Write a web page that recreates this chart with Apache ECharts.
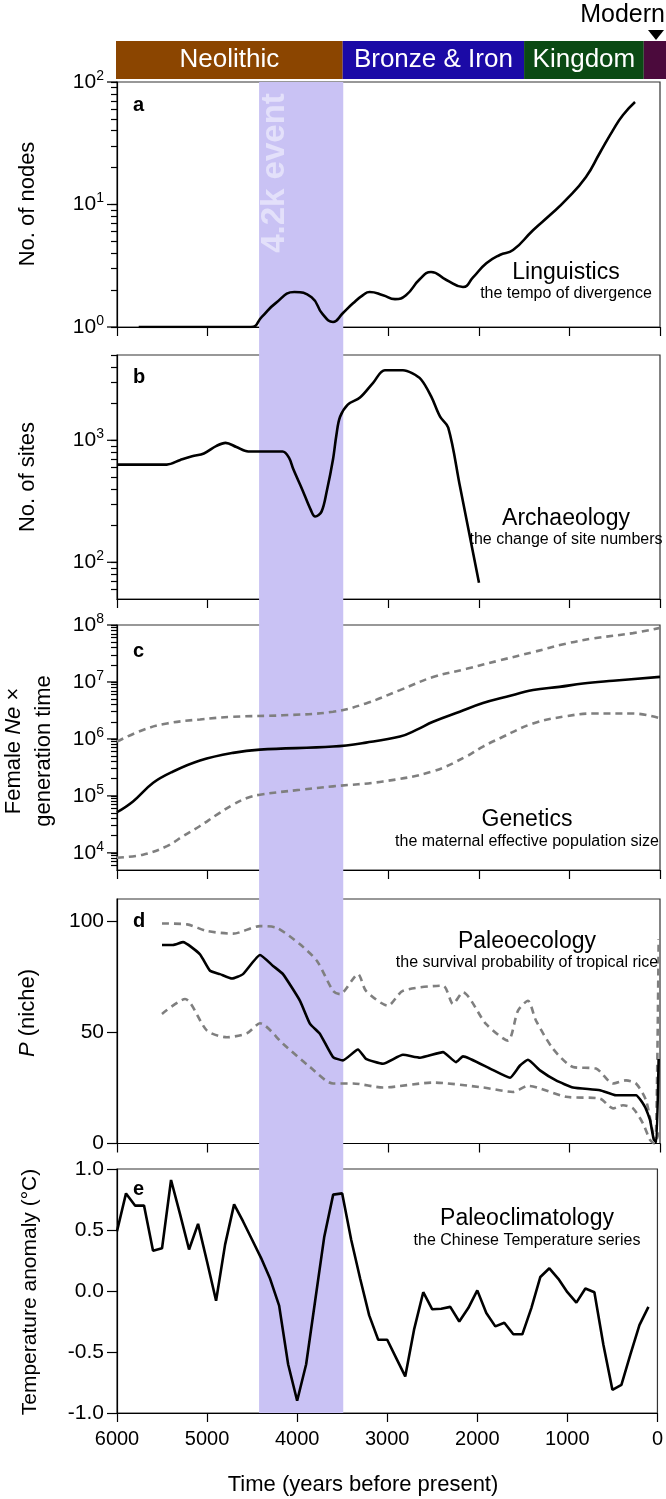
<!DOCTYPE html>
<html><head><meta charset="utf-8">
<script src="https://cdn.jsdelivr.net/npm/echarts@6/dist/echarts.min.js"></script>
<style>html,body{margin:0;padding:0;background:#fff}#c{width:666px;height:1499px}</style>
</head><body><div id="c"></div>
<script>
// ---------------- data ----------------
const periodNames = ['Neolithic', 'Bronze & Iron', 'Kingdom', 'Modern'];
const periodStart = [6000, 3500, 1500, 180];
const periodEnd = [3500, 1500, 180, -65];
const eventBand = [4430, 3500];

// a: Linguistics
const lingYears = [5760, 4520, 4400, 4250, 4040, 3850, 3730, 3613, 3503, 3392, 3282, 3208, 3061, 2928, 2807, 2655, 2530, 2360, 2177, 2066, 1919, 1771, 1624, 1403, 1215, 1039, 818, 667, 519, 409, 276];
const lingNodes = [1.0, 1.0, 1.21, 1.56, 1.93, 1.75, 1.28, 1.10, 1.30, 1.56, 1.82, 1.93, 1.82, 1.69, 1.82, 2.45, 2.81, 2.42, 2.12, 2.54, 3.31, 3.87, 4.25, 6.17, 8.2, 10.9, 16.8, 26.2, 40.5, 53.8, 68.7];

// b: Archaeology
const archYears = [6000, 5450, 5300, 5170, 5040, 4900, 4800, 4680, 4550, 4170, 4100, 4050, 3950, 3860, 3810, 3740, 3680, 3613, 3576, 3536, 3450, 3315, 3170, 3040, 2840, 2740, 2640, 2530, 2430, 2340, 2210, 2000];
const archSites = [632, 632, 690, 740, 780, 900, 953, 880, 808, 808, 720, 575, 390, 270, 237, 260, 390, 700, 1100, 1550, 1960, 2240, 2960, 3750, 3750, 3550, 3150, 2300, 1560, 1270, 417, 68];

// c: Genetics
const neYears = [6000, 5823, 5600, 5380, 5083, 4718, 4420, 3613, 3249, 2873, 2692, 2508, 2213, 1956, 1697, 1403, 1112, 851, 519, 0];
const neMid = [51600, 80000, 170000, 268000, 418000, 569000, 650000, 734000, 861000, 1.1e6, 1.44e6, 2.0e6, 3.0e6, 4.26e6, 5.5e6, 7.2e6, 8.2e6, 9.4e6, 1.05e7, 1.23e7];
const neUpYears = [6000, 5713, 5448, 5083, 4718, 4166, 3613, 3249, 2873, 2508, 2138, 1768, 1400, 1039, 740, 298, 0];
const neUp = [9.0e5, 1.44e6, 1.87e6, 2.2e6, 2.45e6, 2.6e6, 3.0e6, 4.2e6, 7.2e6, 1.22e7, 1.7e7, 2.4e7, 3.35e7, 4.7e7, 5.8e7, 7.2e7, 8.9e7];
const neLoYears = [6000, 5713, 5448, 5271, 5083, 4895, 4718, 4564, 4420, 3978, 3613, 3061, 2508, 2143, 1956, 1768, 1403, 1039, 740, 298, 0];
const neLo = [8200, 9300, 13100, 19600, 29600, 47000, 70000, 92000, 105000, 128000, 147000, 179000, 270000, 490000, 735000, 1.03e6, 1.87e6, 2.5e6, 2.8e6, 2.8e6, 2.3e6];

// d: Paleoecology
const nicheYears = [5503, 5381, 5270, 5083, 4972, 4862, 4729, 4608, 4420, 4276, 4166, 3978, 3867, 3757, 3613, 3503, 3337, 3249, 3061, 2840, 2652, 2398, 2254, 2177, 1878, 1657, 1547, 1459, 1326, 1149, 961, 663, 486, 265, 166, 110, 70, 40, 15];
const nicheMid = [89.3, 89.3, 90.6, 85.1, 77.7, 76.2, 74.2, 76.2, 84.8, 79.9, 76.2, 64.2, 53.8, 49.3, 38.9, 37.4, 42.3, 38.1, 35.9, 39.9, 38.6, 41.1, 36.6, 39.2, 33.7, 29.6, 35.1, 37.7, 32.9, 28.4, 25.2, 24.0, 21.7, 21.7, 16.5, 10.5, 2.0, 0.5, 38];
const nicheUpYears = [5503, 5226, 5006, 4718, 4420, 4232, 3978, 3790, 3613, 3536, 3337, 3249, 3006, 2840, 2398, 2287, 2177, 1923, 1680, 1569, 1459, 1370, 1182, 961, 707, 519, 376, 265, 155, 80, 50, 15];
const nicheUp = [99.0, 98.6, 95.6, 94.4, 97.8, 97.0, 89.6, 82.1, 68.7, 67.2, 76.2, 68.7, 62.0, 68.7, 71.0, 62.8, 68.0, 53.8, 46.3, 59.8, 64.2, 55.3, 42.6, 34.4, 33.7, 27.0, 28.4, 27.0, 19.5, 5.0, 1.0, 92];
const nicheLoYears = [5503, 5248, 5006, 4785, 4564, 4420, 4166, 3867, 3613, 3392, 3061, 2508, 1956, 1624, 1459, 1039, 663, 519, 409, 298, 188, 110, 60, 15];
const nicheLo = [58.3, 65.0, 50.8, 47.8, 49.6, 54.1, 44.9, 34.4, 27.0, 27.0, 25.2, 27.4, 25.2, 23.2, 25.9, 21.0, 20.2, 15.8, 17.2, 15.8, 9.0, 1.6, 0, 5];

// e: Paleoclimatology
const tempYears = [6000, 5900, 5800, 5700, 5600, 5500, 5400, 5300, 5200, 5100, 5000, 4900, 4800, 4700, 4600, 4500, 4400, 4300, 4200, 4100, 4000, 3900, 3800, 3700, 3600, 3500, 3400, 3300, 3200, 3100, 3000, 2900, 2800, 2700, 2600, 2500, 2400, 2300, 2200, 2100, 2000, 1900, 1800, 1700, 1600, 1500, 1400, 1300, 1200, 1100, 1000, 900, 800, 700, 600, 500, 400, 300, 200, 100];
const tempAnom = [0.49, 0.80, 0.70, 0.70, 0.33, 0.35, 0.91, 0.63, 0.34, 0.55, 0.24, -0.08, 0.38, 0.71, 0.57, 0.42, 0.27, 0.10, -0.12, -0.60, -0.90, -0.60, -0.08, 0.44, 0.79, 0.80, 0.42, 0.10, -0.20, -0.40, -0.40, -0.55, -0.70, -0.31, -0.01, -0.15, -0.145, -0.13, -0.25, -0.14, 0.005, -0.18, -0.29, -0.26, -0.355, -0.355, -0.14, 0.115, 0.186, 0.10, -0.01, -0.095, 0.02, -0.01, -0.44, -0.81, -0.77, -0.52, -0.28, -0.13];

// ticks
const xTicks = [6000, 5000, 4000, 3000, 2000, 1000, 0];
const aMajor = [1, 10, 100];
const aMinor = [2, 3, 4, 5, 6, 7, 8, 9, 20, 30, 40, 50, 60, 70, 80, 90];
const bMajor = [100, 1000];
const bMinor = [60, 70, 80, 90, 200, 300, 400, 500, 600, 700, 800, 900, 2000, 3000, 4000, 5000];
const cMajor = [1e4, 1e5, 1e6, 1e7, 1e8];
const cMinor = [6000, 7000, 8000, 9000,
  2e4, 3e4, 4e4, 5e4, 6e4, 7e4, 8e4, 9e4,
  2e5, 3e5, 4e5, 5e5, 6e5, 7e5, 8e5, 9e5,
  2e6, 3e6, 4e6, 5e6, 6e6, 7e6, 8e6, 9e6,
  2e7, 3e7, 4e7, 5e7, 6e7, 7e7, 8e7, 9e7];
const dTicks = [0, 50, 100];

// ---------------- style ----------------
const FF = '"Liberation Sans", Arial, Helvetica, sans-serif';
const periodColors = ['#8b4500', '#1b0aa6', '#0b4a14', '#4b0a3c'];
const bandColor = '#c9c2f4';
const L = 117, W = 543;
const panels = [
  {top: 82, height: 245},
  {top: 355, height: 244},
  {top: 625, height: 245},
  {top: 899, height: 244.5},
  {top: 1169, height: 244}
];

const pairs = (xs, ys) => xs.map((x, i) => [x, ys[i]]);

const grids = [
  {left: L, width: W, top: 82, height: 1331, show: false},   // 0 band
  {left: 116, width: 550, top: 41, height: 38, show: false}, // 1 period bar
];
panels.forEach(p => grids.push({left: L, width: W, top: p.top, height: p.height, show: true, borderColor: '#333', borderWidth: 1.2}));

const xAxes = grids.map((g, i) => {
  const base = {type: 'value', gridIndex: i, min: 0, max: 6000, inverse: true, interval: 1000, position: 'bottom'};
  if (i === 1) { base.min = -65; delete base.interval; }
  if (i < 2) return Object.assign(base, {show: false});
  return Object.assign(base, {
    axisLine: {show: true, onZero: false, lineStyle: {color: '#000', width: 1.2}},
    axisTick: {show: true, inside: false, length: 9, lineStyle: {color: '#000', width: 1.2}, customValues: xTicks},
    axisLabel: {show: i === 6, color: '#000', fontSize: 20, fontFamily: FF, margin: 16, customValues: xTicks,
      formatter: v => String(v)},
    splitLine: {show: false}
  });
});

function logLabel(v) {
  const e = Math.round(Math.log10(v));
  return '{b|10}{s|' + e + '}';
}
const logRich = {
  b: {fontSize: 21, fontFamily: FF, color: '#000', lineHeight: 26, verticalAlign: 'middle'},
  s: {fontSize: 14, fontFamily: FF, color: '#000', lineHeight: 14, verticalAlign: 'top'}
};
function mainY(gi, type, min, max, ticks, labels, tickLen) {
  return {
    type: type, gridIndex: gi, min: min, max: max, position: 'left',
    axisLine: {show: true, onZero: false, lineStyle: {color: '#000', width: 1.2}},
    axisTick: {show: true, inside: false, length: tickLen, customValues: ticks, lineStyle: {color: '#000', width: 1.2}},
    axisLabel: {show: true, customValues: labels, margin: 13, color: '#000', fontSize: 21, fontFamily: FF},
    splitLine: {show: false}
  };
}
const yAxes = [
  {type: 'value', gridIndex: 0, min: 0, max: 1, show: false},
  {type: 'value', gridIndex: 1, min: 0, max: 1, show: false},
  mainY(2, 'log', 1, 100, aMajor.concat(aMinor), aMajor, 6),
  mainY(3, 'log', 50, 5000, bMajor.concat(bMinor), bMajor, 6),
  mainY(4, 'log', 5000, 1e8, cMajor.concat(cMinor), cMajor, 6),
  mainY(5, 'value', 0, 110, dTicks, dTicks, 10),
  mainY(6, 'value', -1, 1, undefined, undefined, 10)
];
[2, 3, 4].forEach(i => { yAxes[i].axisLabel.formatter = logLabel; yAxes[i].axisLabel.rich = logRich; });
yAxes[6].interval = 0.5;
delete yAxes[6].axisTick.customValues;
delete yAxes[6].axisLabel.customValues;
yAxes[6].axisLabel.formatter = v => v.toFixed(1);

const solid = {color: '#000', width: 2.6};
const dashed = {color: '#7f7f7f', width: 2.6, type: [7, 5]};
function line(gi, data, ls, smooth) {
  return {type: 'line', xAxisIndex: gi, yAxisIndex: gi, data: data, symbol: 'none', showSymbol: false,
    smooth: smooth, lineStyle: ls, silent: true, z: 3};
}
// longer major ticks on log axes, placed through the axis scale
function majorExt(gi, values) {
  return {type: 'custom', xAxisIndex: gi, yAxisIndex: gi, clip: false, z: 10,
    data: values.map(v => [6000, v]),
    renderItem: (params, api) => {
      const p = api.coord([api.value(0), api.value(1)]);
      return {type: 'line', shape: {x1: p[0] - 10, y1: p[1], x2: p[0], y2: p[1]}, style: {stroke: '#000', lineWidth: 1.2}};
    }};
}

const series = [
  {type: 'line', xAxisIndex: 0, yAxisIndex: 0, data: [[eventBand[0], 0.5], [eventBand[1], 0.5]],
    symbol: 'none', lineStyle: {opacity: 0}, silent: true, z: -10,
    markArea: {silent: true, itemStyle: {color: bandColor}, data: [[{xAxis: eventBand[0]}, {xAxis: eventBand[1]}]]}},
  {type: 'line', xAxisIndex: 1, yAxisIndex: 1, data: [[periodStart[0], 0.5], [periodEnd[3], 0.5]],
    symbol: 'none', lineStyle: {opacity: 0}, silent: true,
    markArea: {silent: true,
      label: {show: true, position: 'inside', color: '#fff', fontSize: 26, fontFamily: FF},
      data: periodNames.map((n, i) => [
        {name: n, xAxis: periodStart[i], itemStyle: {color: periodColors[i]}, label: {show: n !== 'Modern'}},
        {xAxis: periodEnd[i]}
      ])}},
  majorExt(2, aMajor),
  majorExt(3, bMajor),
  majorExt(4, cMajor),
  line(2, pairs(lingYears, lingNodes), solid, 0.5),
  line(3, pairs(archYears, archSites), solid, 0.35),
  line(4, pairs(neUpYears, neUp), dashed, 0.4),
  line(4, pairs(neLoYears, neLo), dashed, 0.4),
  line(4, pairs(neYears, neMid), solid, 0.4),
  line(5, pairs(nicheUpYears, nicheUp), dashed, 0.25),
  line(5, pairs(nicheLoYears, nicheLo), dashed, 0.25),
  line(5, pairs(nicheYears, nicheMid), solid, 0.15),
  line(6, pairs(tempYears, tempAnom), solid, false)
];

function txt(x, y, text, size, opts) {
  return {type: 'text', x: x, y: y, rotation: (opts && opts.rot) || 0, silent: true, z: 100,
    style: Object.assign({text: text, fontSize: size, fontFamily: FF, fill: '#000', align: 'center', verticalAlign: 'middle'}, (opts && opts.style) || {})};
}
const R = Math.PI / 2;
const graphic = [
  txt(28, 204, 'No. of nodes', 22, {rot: R}),
  txt(28, 477, 'No. of sites', 22, {rot: R}),
  txt(29, 751, 'Female {i|Ne} ×\ngeneration time', 22, {rot: R, style: {lineHeight: 30,
    rich: {i: {fontStyle: 'italic', fontSize: 22, fontFamily: FF, lineHeight: 30}}}}),
  txt(28, 1013, '{i|P} (niche)', 22, {rot: R, style: {rich: {i: {fontStyle: 'italic', fontSize: 22, fontFamily: FF}}}}),
  txt(30, 1292, 'Temperature anomaly (°C)', 21, {rot: R}),
  txt(363, 1485, 'Time (years before present)', 22),
  txt(133, 105, 'a', 20, {style: {align: 'left', fontWeight: 'bold'}}),
  txt(133, 377, 'b', 20, {style: {align: 'left', fontWeight: 'bold'}}),
  txt(133, 651, 'c', 20, {style: {align: 'left', fontWeight: 'bold'}}),
  txt(133, 921, 'd', 20, {style: {align: 'left', fontWeight: 'bold'}}),
  txt(133, 1189, 'e', 20, {style: {align: 'left', fontWeight: 'bold'}}),
  txt(566, 273, 'Linguistics', 23),
  txt(566, 294, 'the tempo of divergence', 16),
  txt(566, 519, 'Archaeology', 23),
  txt(566, 540, 'the change of site numbers', 16),
  txt(527, 820, 'Genetics', 23),
  txt(527, 842, 'the maternal effective population size', 16),
  txt(527, 942, 'Paleoecology', 23),
  txt(527, 963, 'the survival probability of tropical rice', 16),
  txt(527, 1219, 'Paleoclimatology', 23),
  txt(527, 1241, 'the Chinese Temperature series', 16),
  txt(275, 173, '4.2k event', 33, {rot: R, style: {fill: '#e3e0fa', fontWeight: 'bold'}}),
  txt(665, 15, 'Modern', 25, {style: {align: 'right'}}),
  {type: 'polygon', silent: true, z: 100, shape: {points: [[648, 30], [664, 30], [656, 40]]}, style: {fill: '#000'}}
];

const chart = echarts.init(document.getElementById('c'), null, {renderer: 'canvas'});
chart.setOption({
  animation: false,
  backgroundColor: '#fff',
  grid: grids,
  xAxis: xAxes,
  yAxis: yAxes,
  series: series,
  graphic: graphic
});
</script></body></html>
